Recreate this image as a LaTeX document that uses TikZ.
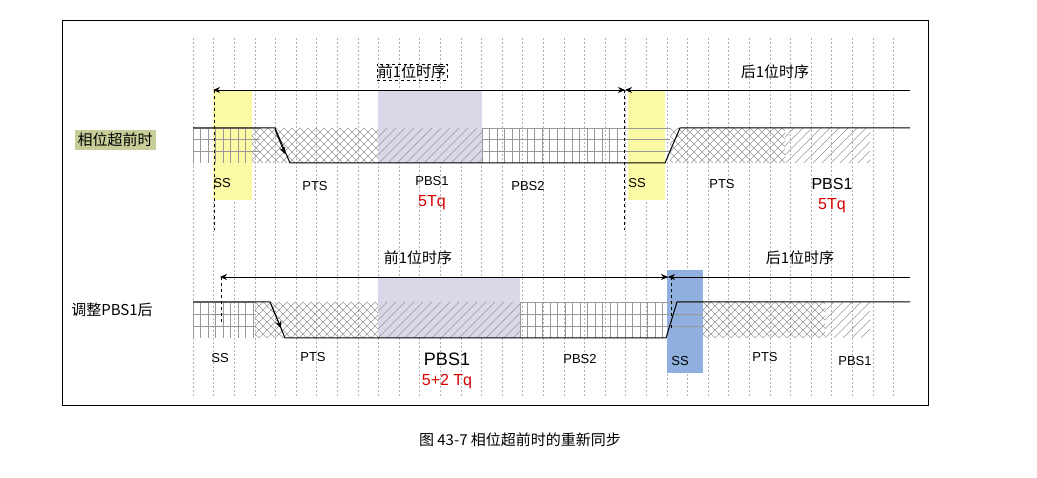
\documentclass[tikz,border=0pt]{standalone}
\usepackage{fontspec}
\setmainfont{Liberation Sans}
\newfontfamily\cjk{Noto Sans CJK SC}
\usetikzlibrary{arrows.meta}
\definecolor{pur}{rgb}{0.86,0.84,0.91}
\definecolor{yel}{rgb}{0.99,0.98,0.65}
\definecolor{blu}{rgb}{0.56,0.69,0.87}
\definecolor{olv}{rgb}{0.78,0.80,0.60}
\newcommand\gridfill[4]{\begin{scope}\clip (#1,#2) rectangle (#3,#4);
  \foreach \i in {0,...,20} \draw[gray!80,line width=0.5pt] ({#1+7.5*\i},#2) -- ({#1+7.5*\i},#4);
  \foreach \y in {0,1,2,3} \draw[gray!80,line width=0.5pt] (#1,{#2+\y*(#4-#2)/3}) -- (#3,{#2+\y*(#4-#2)/3});\end{scope}}
\newcommand\hlines[4]{\begin{scope}\clip (#1,#2) rectangle (#3,#4);
  \foreach \y in {0,1,2,3} \draw[gray!80,line width=0.5pt] (#1,{#2+\y*(#4-#2)/3}) -- (#3,{#2+\y*(#4-#2)/3});\end{scope}}
\newcommand\xfill[4]{\begin{scope}\clip (#1,#2) rectangle (#3,#4);
  \foreach \i in {0,...,22} {\draw[gray!80,line width=0.4pt] ({#1+8*\i},#2) -- ++(-40,40); \draw[gray!80,line width=0.4pt] ({#1+8*\i-40},#2) -- ++(40,40);}\end{scope}}
\newcommand\dfill[4]{\begin{scope}\clip (#1,#2) rectangle (#3,#4);
  \foreach \i in {0,...,22} \draw[gray!80,line width=0.5pt] ({#1+9*\i},#2) -- ++(-40,40);\end{scope}}
\begin{document}
\begin{tikzpicture}[x=1pt,y=-1pt,
  sig/.style={line width=1pt},
  grd/.style={dash pattern=on 2pt off 2pt,gray!60,line width=0.4pt},
  lbl/.style={font=\fontsize{13}{15}\selectfont},
  big/.style={font=\fontsize{16}{18}\selectfont},
  red/.style={font=\fontsize{16}{18}\selectfont,text=red!85!black},
  zh/.style={font=\cjk\fontsize{15}{17}\selectfont},
  arr/.style={-{Stealth[length=7pt,width=6pt]},line width=0.8pt}]
\useasboundingbox (0,0) rectangle (1037,478);
\fill[white] (0,0) rectangle (1037,478);
\draw[line width=0.8pt] (62,20) rectangle (928,405);
\foreach \i in {0,...,34} {\draw[grd] ({193+20.6*\i},38) -- ({193+20.6*\i},398);}
% ===== top =====
\fill[yel] (213,90) rectangle (252,200);
\fill[yel] (628,90) rectangle (665,200);
\fill[pur] (378,90) rectangle (482,163);
\gridfill{193}{128}{252}{163}
\hlines{252}{128}{260}{163}
\xfill{252}{128}{378}{163}
\dfill{378}{128}{482}{163}
\gridfill{482}{128}{620}{163}
\hlines{620}{128}{670}{163}
\xfill{670}{128}{785}{163}
\dfill{785}{128}{870}{163}
\draw[sig] (193,128) -- (275,128) -- (290,163) -- (665,163) -- (680,128) -- (910,128);
\draw[arr] (275,130) -- (285,154);
\coordinate (a1) at (213,90); \coordinate (b1) at (625,90); \coordinate (c1) at (910,90);
\draw[arr] (b1) -- (a1);
\draw[arr] (c1) -- (b1);
\draw[arr] ([xshift=-12pt]b1) -- (b1);
\draw[dashed,line width=0.6pt] (214,90) -- (214,230);
\draw[dashed,line width=0.6pt] (624,90) -- (624,230);
\node[draw,dashed,inner sep=1pt,zh] (t1) at (412,72) {前1位时序};
\node[zh] (t2) at (775,72) {后1位时序};
\node[fill=olv,zh,inner sep=3pt] (L1) at (115,140) {相位超前时};
\node[lbl] at (222,183) {SS};
\node[lbl] at (315,186) {PTS};
\node[lbl] at (432,181) {PBS1};
\node[red] at (432,203) {5Tq};
\node[lbl] at (528,186) {PBS2};
\node[lbl] at (637,183) {SS};
\node[lbl] at (722,184) {PTS};
\node[big] at (832,184) {PBS1};
\node[red] at (832,206) {5Tq};
% ===== bottom =====
\fill[blu] (667,270) rectangle (703,373);
\fill[pur] (378,277) rectangle (520,338);
\gridfill{193}{302}{255}{338}
\xfill{255}{302}{378}{338}
\dfill{378}{302}{520}{338}
\gridfill{520}{302}{665}{338}
\hlines{665}{302}{703}{338}
\xfill{703}{302}{825}{338}
\dfill{825}{302}{870}{338}
\draw[sig] (193,302) -- (270,302) -- (285,338) -- (666,338) -- (677,302) -- (910,302);
\draw[arr] (271,304) -- (281,328);
\coordinate (a2) at (220,277); \coordinate (b2) at (668,277); \coordinate (c2) at (910,277);
\draw[arr] (b2) -- (a2);
\draw[arr] (c2) -- (b2);
\draw[arr] ([xshift=-12pt]b2) -- (b2);
\draw[dashed,line width=0.6pt] (221,277) -- (221,325);
\draw[dashed,line width=0.6pt] (671,277) -- (671,330);
\node[zh] (t3) at (418,258) {前1位时序};
\node[zh] (t4) at (800,258) {后1位时序};
\node[zh] (L2) at (112,310) {调整PBS1后};
\node[lbl] at (220,358) {SS};
\node[lbl] at (313,357) {PTS};
\node[font=\fontsize{18}{20}\selectfont] at (447,359) {PBS1};
\node[red] at (447,382) {5+2 Tq};
\node[lbl] at (580,359) {PBS2};
\node[lbl] at (680,361) {SS};
\node[lbl] at (765,357) {PTS};
\node[lbl] at (855,361) {PBS1};
\node[font=\cjk\fontsize{15}{17}\selectfont] (cap) at (520,440) {图 43-7 相位超前时的重新同步};
\end{tikzpicture}
\end{document}
